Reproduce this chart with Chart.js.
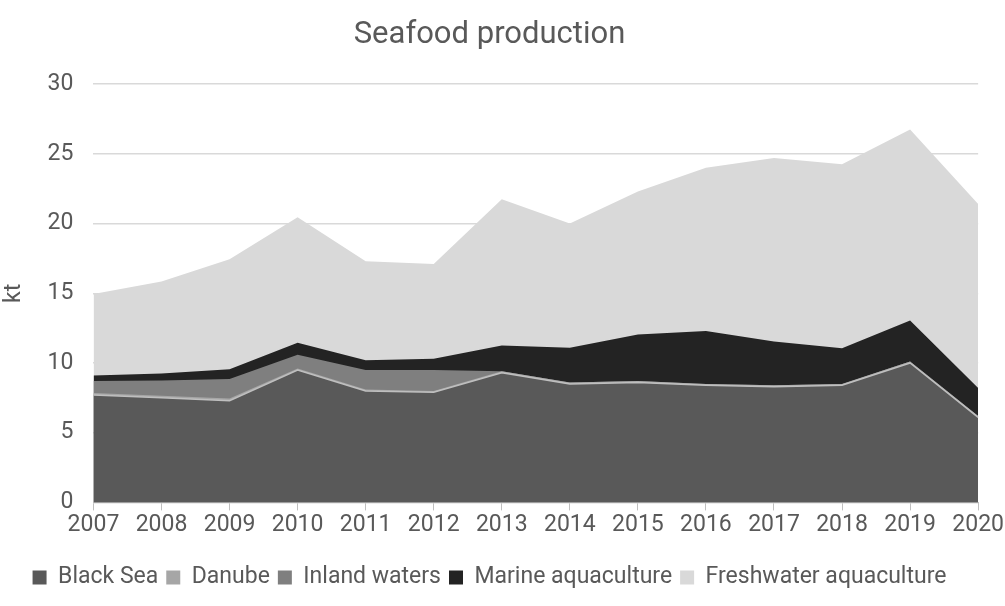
<!DOCTYPE html>
<html>
<head>
<meta charset="utf-8">
<script src="https://cdn.jsdelivr.net/npm/chart.js@4"></script>
<style>
  html, body { margin: 0; padding: 0; background: #fff; }
  #wrap { width: 1005px; height: 606px; }
</style>
</head>
<body>
<div id="wrap"><canvas id="myChart" width="1005" height="606"></canvas></div>
<script>
const years = ['2007', '2008', '2009', '2010', '2011', '2012', '2013', '2014', '2015', '2016', '2017', '2018', '2019', '2020'];
const blackSea = [7.7, 7.5, 7.3, 9.5, 8.0, 7.9, 9.3, 8.5, 8.6, 8.4, 8.3, 8.4, 10.0, 6.1];
const danube = [0.15, 0.15, 0.15, 0.1, 0.1, 0.1, 0.1, 0.1, 0.1, 0.1, 0.1, 0.1, 0.1, 0.1];
const inlandWaters = [0.85, 1.1, 1.4, 1.0, 1.4, 1.5, 0.0, 0, 0, 0, 0, 0, 0, 0];
const marineAqua = [0.4, 0.5, 0.7, 0.85, 0.7, 0.8, 1.85, 2.5, 3.35, 3.8, 3.15, 2.55, 2.95, 2.0];
const freshwaterAqua = [5.85, 6.6, 7.9, 9.0, 7.1, 6.8, 10.5, 8.9, 10.25, 11.7, 13.15, 13.2, 13.7, 13.2];
const yTicks = [0, 5, 10, 15, 20, 25, 30];

const fontFamily = 'Roboto, "Noto Sans", sans-serif';
const textColor = '#595959';

function area(label, values, color, border) {
    return {
        label: label,
        data: values,
        backgroundColor: color,
        borderColor: border || color,
        borderWidth: border ? 1.5 : 0,
        fill: true,
        pointRadius: 0,
        tension: 0
    };
}

const data = {
    labels: years,
    datasets: [
        area('Black Sea', blackSea, '#595959', '#bfbfbf'),
        area('Danube', danube, '#a6a6a6'),
        area('Inland waters', inlandWaters, '#7f7f7f'),
        area('Marine aquaculture', marineAqua, '#232323'),
        area('Freshwater aquaculture', freshwaterAqua, '#d9d9d9')
    ]
};

const config = {
    type: 'line',
    data: data,
    options: {
        responsive: false,
        animation: false,
        layout: { padding: { left: 0, right: 26, top: 8, bottom: 7 } },
        plugins: {
            title: {
                display: true,
                text: 'Seafood production',
                color: textColor,
                font: { family: fontFamily, size: 31, weight: 'normal' },
                padding: { top: 9, bottom: 30 }
            },
            legend: {
                position: 'bottom',
                labels: {
                    color: textColor,
                    font: { family: fontFamily, size: 23 },
                    boxWidth: 14,
                    boxHeight: 14,
                    padding: 8,
                    generateLabels: function(chart) {
                        return chart.data.datasets.map(function(ds, i) {
                            return {
                                text: ds.label,
                                fillStyle: ds.backgroundColor,
                                strokeStyle: ds.backgroundColor,
                                lineWidth: 0,
                                fontColor: textColor,
                                datasetIndex: i
                            };
                        });
                    }
                }
            },
            tooltip: { enabled: false }
        },
        scales: {
            x: {
                offset: false,
                grid: { display: true, drawOnChartArea: false, color: '#bfbfbf', tickLength: 8 },
                border: { color: '#bfbfbf' },
                ticks: { color: textColor, font: { family: fontFamily, size: 23 }, maxRotation: 0, padding: 1 },
                afterFit: function(axis) { axis.height += 18; }
            },
            y: {
                stacked: true,
                min: 0,
                max: 30,
                afterBuildTicks: function(axis) {
                    axis.ticks = yTicks.map(function(v) { return { value: v }; });
                },
                grid: { color: '#d9d9d9', lineWidth: 1.5, drawTicks: false },
                border: { display: false },
                ticks: { color: textColor, font: { family: fontFamily, size: 23 }, padding: 20 },
                title: {
                    display: true,
                    text: 'kt',
                    color: textColor,
                    font: { family: fontFamily, size: 23 },
                    padding: 0
                }
            }
        }
    }
};

const myChart = new Chart(
    document.getElementById('myChart'),
    config
);
</script>
</body>
</html>
